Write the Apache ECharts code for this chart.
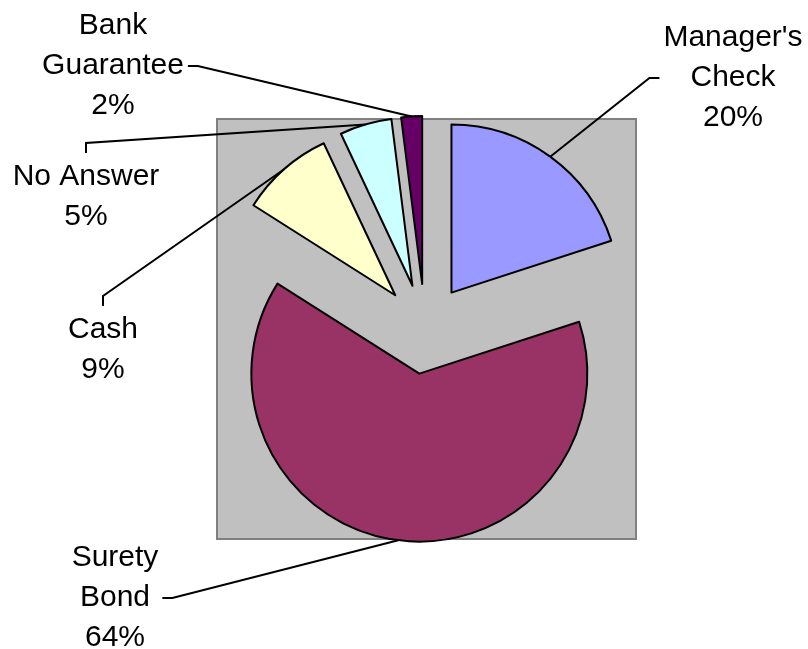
<!DOCTYPE html>
<html>
<head>
<meta charset="utf-8">
<title>Payment Instruments</title>
<script src="https://cdn.jsdelivr.net/npm/echarts@6/dist/echarts.min.js"></script>
<style>
  html, body { margin: 0; padding: 0; background: #ffffff; }
  #chart { width: 808px; height: 649px; }
</style>
</head>
<body>
<div id="chart"></div>
<script>
// Share of respondents by type of security offered (percent)
const categories = ["Manager's Check", 'Surety Bond', 'Cash', 'No Answer', 'Bank Guarantee'];
const labelNames = ["Manager's\nCheck", 'Surety\nBond', 'Cash', 'No Answer', 'Bank\nGuarantee'];
const shares = [20, 64, 9, 5, 2];
const sliceColors = ['#9999FF', '#993366', '#FFFFCC', '#CCFFFF', '#660066'];

// Where each label block sits and which side its leader line leaves from
const labelCentres = [[733, 78], [115, 598], [103, 350], [86, 197], [113, 66]];
const leaderSides = ['left', 'right', 'top', 'top', 'right'];

const PIE_CENTER = [425, 329];
const PIE_RADIUS = 168;
const EXPLODE = 45;
const LEADER_GAP = 4;
const LEADER_RUN = 10;

const chart = echarts.init(document.getElementById('chart'), null, { renderer: 'canvas' });

// Exploded slices
const sliceData = categories.map((name, i) => ({
  name: name,
  value: shares[i],
  selected: true,
  itemStyle: { color: sliceColors[i] }
}));

// Same values again, used only to carry the labels and leader lines
const labelData = categories.map((name, i) => ({ name: name, value: shares[i] }));

chart.setOption({
  animation: false,
  backgroundColor: '#ffffff',
  graphic: [{
    type: 'rect',
    z: 0,
    silent: true,
    shape: { x: 217, y: 119, width: 419, height: 420 },
    style: { fill: '#C0C0C0', stroke: '#808080', lineWidth: 2 }
  }],
  series: [{
    type: 'pie',
    z: 2,
    center: PIE_CENTER,
    radius: PIE_RADIUS,
    startAngle: 90,
    clockwise: true,
    selectedMode: 'multiple',
    selectedOffset: EXPLODE,
    emphasis: { disabled: true },
    select: { itemStyle: { borderColor: '#000000', borderWidth: 2 } },
    itemStyle: { borderColor: '#000000', borderWidth: 2 },
    label: { show: false },
    labelLine: { show: false },
    data: sliceData
  }, {
    type: 'pie',
    z: 3,
    silent: true,
    center: PIE_CENTER,
    radius: PIE_RADIUS,
    startAngle: 90,
    clockwise: true,
    selectedMode: false,
    percentPrecision: 0,
    emphasis: { disabled: true },
    itemStyle: { color: 'rgba(0,0,0,0)', borderWidth: 0 },
    label: {
      show: true,
      position: 'outside',
      formatter: (p) => labelNames[p.dataIndex] + '\n' + p.percent + '%',
      fontFamily: '"Liberation Sans", Arial, sans-serif',
      fontSize: 30,
      lineHeight: 40,
      color: '#000000',
      align: 'center'
    },
    labelLine: {
      show: true,
      length: 20,
      length2: LEADER_RUN,
      minTurnAngle: 0,
      maxSurfaceAngle: 180,
      lineStyle: { color: '#000000', width: 2 }
    },
    labelLayout: function (params) {
      const i = params.dataIndex;
      const cx = labelCentres[i][0];
      const cy = labelCentres[i][1];
      const w = params.labelRect.width;
      const h = params.labelRect.height;
      // push the arc anchor out with its slice
      const a = params.labelLinePoints[0];
      const k = (PIE_RADIUS + EXPLODE) / PIE_RADIUS;
      const anchor = [PIE_CENTER[0] + (a[0] - PIE_CENTER[0]) * k,
                      PIE_CENTER[1] + (a[1] - PIE_CENTER[1]) * k];
      let end, bend;
      switch (leaderSides[i]) {
        case 'left':
          end = [cx - w / 2 - LEADER_GAP, cy];
          bend = [end[0] - LEADER_RUN, cy];
          break;
        case 'right':
          end = [cx + w / 2 + LEADER_GAP, cy];
          bend = [end[0] + LEADER_RUN, cy];
          break;
        default:
          end = [cx, cy - h / 2 - LEADER_GAP];
          bend = [cx, end[1] - LEADER_RUN];
      }
      return {
        x: cx,
        y: cy,
        align: 'center',
        verticalAlign: 'middle',
        labelLinePoints: [anchor, bend, end]
      };
    },
    data: labelData
  }]
});
</script>
</body>
</html>
